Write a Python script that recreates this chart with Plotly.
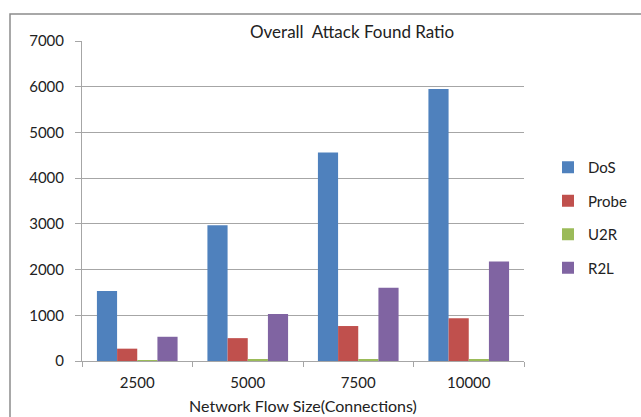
import plotly.graph_objects as go

# Network flow sizes (connections) on the x axis
flow_sizes = ["2500", "5000", "7500", "10000"]

# Attacks found per category at each flow size
dos = [1530, 2970, 4560, 5950]
probe = [270, 500, 765, 935]
u2r = [20, 25, 25, 40]
r2l = [530, 1030, 1605, 2175]

series = [
    ("DoS", dos, "#4F81BD"),
    ("Probe", probe, "#C0504D"),
    ("U2R", u2r, "#9BBB59"),
    ("R2L", r2l, "#8064A2"),
]

FONT = "Lato, Open Sans, sans-serif"
GRID = "#A6A6A6"
TXT = "#222222"

fig = go.Figure()
for i, (name, vals, color) in enumerate(series):
    fig.add_trace(go.Bar(
        x=flow_sizes, y=vals, name=name,
        marker=dict(color=color, line=dict(width=0)),
        legendgroup=f"g{i}",
    ))

W, H = 641, 417
L, R, T, B = 82, 117, 41, 56
plot_w = W - L - R
plot_h = H - T - B

fig.update_layout(
    width=W, height=H,
    margin=dict(l=L, r=R, t=T, b=B, pad=0, autoexpand=False),
    paper_bgcolor="white", plot_bgcolor="white",
    barmode="group", bargap=0.27, bargroupgap=0,
    font=dict(family=FONT, size=15, color=TXT),
    showlegend=True,
    legend=dict(
        x=(548 - L) / plot_w, y=(H - B - 151) / plot_h,
        xanchor="left", yanchor="top",
        font=dict(size=15, color=TXT),
        tracegroupgap=11, itemwidth=30,
        bgcolor="rgba(0,0,0,0)",
    ),
    xaxis=dict(
        type="category", tickson="boundaries",
        ticks="outside", ticklen=5, tickcolor=GRID,
        showline=True, linecolor=GRID, linewidth=1,
        showgrid=False, automargin=False,
        ticklabelstandoff=8,
        tickfont=dict(size=15, color=TXT),
        title=dict(text="Network Flow Size(Connections)",
                   font=dict(size=16, color=TXT), standoff=10),
    ),
    yaxis=dict(
        range=[0, 7000], dtick=1000,
        ticks="outside", ticklen=6, tickcolor=GRID,
        showline=True, linecolor=GRID, linewidth=1,
        showgrid=True, gridcolor=GRID, gridwidth=1,
        zeroline=False, automargin=False,
        ticklabelstandoff=8,
        tickfont=dict(size=15, color=TXT),
    ),
    annotations=[dict(
        text="Overall  Attack Found Ratio",
        xref="paper", yref="paper",
        x=(352 - L) / plot_w, y=(H - B - 31) / plot_h,
        xanchor="center", yanchor="middle", showarrow=False,
        font=dict(size=17, color=TXT),
    )],
    shapes=[dict(
        type="rect", xref="paper", yref="paper",
        x0=(10 - L) / plot_w, x1=(700 - L) / plot_w,
        y0=(H - B - 460) / plot_h, y1=(H - B - 14) / plot_h,
        line=dict(color="#8C8C8C", width=1.5), layer="below",
    )],
)

fig.write_html("out.html")
